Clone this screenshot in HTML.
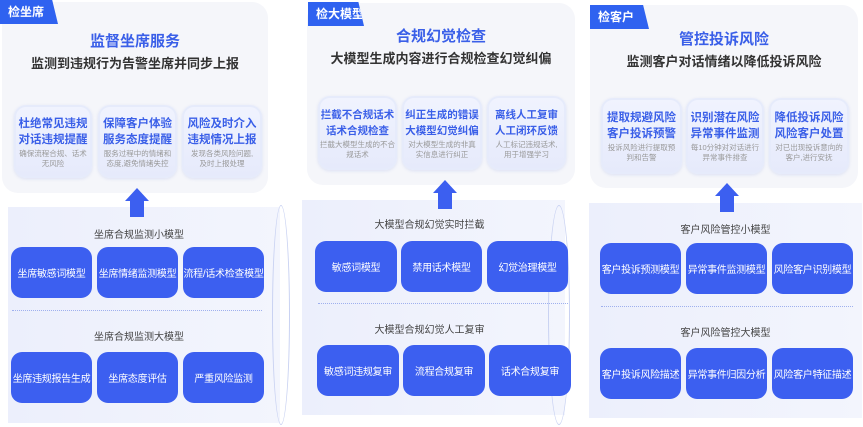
<!DOCTYPE html>
<html><head><meta charset="utf-8"><style>
*{margin:0;padding:0;box-sizing:border-box}
body{width:863px;height:427px;background:#fff;position:relative;overflow:hidden;font-family:"Liberation Sans","Noto Sans CJK SC",sans-serif}
.card{position:absolute;background:#f5f6fa;border-radius:16px}
.tag{position:absolute;height:24px;background:#2f62f0;color:#fff;font-size:12px;font-weight:bold;line-height:24px;padding-left:8px;clip-path:polygon(0 0,90% 0,100% 100%,0 100%)}
.t1{position:absolute;text-align:center;color:#3a5fe8;font-size:15px;font-weight:bold}
.t2{position:absolute;text-align:center;color:#333;font-size:13px;font-weight:bold}
.sc{position:absolute;background:linear-gradient(180deg,#f0f3fe,#e6eafb);border:2px solid #e6ebfb;border-radius:12px;text-align:center;box-shadow:0 1px 3px rgba(120,140,220,.2);white-space:nowrap;overflow:hidden}
.sc b{display:block;color:#3a5fe8;font-size:11.5px;line-height:16px}
.p2 b{font-size:10.5px}
.sc i{display:block;font-style:normal;color:#999;font-size:7.5px;line-height:10px;margin-top:1px}
.bp{position:absolute;background:linear-gradient(90deg,#eceffc,#f3f5fd)}
.lb{position:absolute;text-align:center;color:#444;font-size:10px}
.bt{position:absolute;background:#3c5ff0;color:#fff;border-radius:11px;font-size:10px;display:flex;align-items:center;justify-content:center;height:51px;white-space:nowrap;letter-spacing:-0.3px}
.dl{position:absolute;border-top:1.5px dotted #9fb0ee;height:0}
.ar{position:absolute;width:24px;height:29px}
.ar:before{content:"";position:absolute;left:0;top:0;border-left:12px solid transparent;border-right:12px solid transparent;border-bottom:13px solid #3c5ff0}
.ar:after{content:"";position:absolute;left:5px;top:13px;width:14px;height:16px;background:#3c5ff0}
.el{position:absolute;border:1px solid #c9d2f2;border-radius:50%}
</style></head><body>

<!-- Panel 1 -->
<div class="card" style="left:2px;top:2px;width:266px;height:191px"></div>
<div class="tag" style="left:0;top:0;width:58px">检坐席</div>
<div class="t1" style="left:2px;top:30px;width:266px">监督坐席服务</div>
<div class="t2" style="left:2px;top:53px;width:266px">监测到违规行为告警坐席并同步上报</div>
<div class="sc" style="left:14px;top:105px;width:78px;height:73px;padding-top:9px"><b>杜绝常见违规</b><b>对话违规提醒</b><i>确保流程合规、话术<br>无风险</i></div>
<div class="sc" style="left:98px;top:105px;width:79px;height:73px;padding-top:9px"><b>保障客户体验</b><b>服务态度提醒</b><i>服务过程中的情绪和<br>态度,避免情绪失控</i></div>
<div class="sc" style="left:182px;top:105px;width:80px;height:73px;padding-top:9px"><b>风险及时介入</b><b>违规情况上报</b><i>发现各类风险问题,<br>及时上报处理</i></div>
<div class="bp" style="left:8px;top:207px;width:272px;height:216px"></div>
<div class="el" style="left:272px;top:205px;width:18px;height:220px"></div>
<div class="ar" style="left:125px;top:188px"></div>
<div class="lb" style="left:8px;top:226px;width:262px">坐席合规监测小模型</div>
<div class="bt" style="left:11px;top:247px;width:81px">坐席敏感词模型</div>
<div class="bt" style="left:97px;top:247px;width:81px">坐席情绪监测模型</div>
<div class="bt" style="left:183px;top:247px;width:81px">流程/话术检查模型</div>
<div class="dl" style="left:12px;top:310px;width:250px"></div>
<div class="lb" style="left:8px;top:328px;width:262px">坐席合规监测大模型</div>
<div class="bt" style="left:11px;top:352px;width:81px">坐席违规报告生成</div>
<div class="bt" style="left:97px;top:352px;width:81px">坐席态度评估</div>
<div class="bt" style="left:183px;top:352px;width:81px">严重风险监测</div>

<!-- Panel 2 -->
<div class="card" style="left:307px;top:3px;width:268px;height:182px"></div>
<div class="tag" style="left:308px;top:2px;width:56px">检大模型</div>
<div class="t1" style="left:307px;top:25px;width:268px">合规幻觉检查</div>
<div class="t2" style="left:307px;top:48px;width:268px">大模型生成内容进行合规检查幻觉纠偏</div>
<div class="sc p2" style="left:318px;top:96px;width:79px;height:74px;padding-top:9px"><b>拦截不合规话术</b><b>话术合规检查</b><i>拦截大模型生成的不合<br>规话术</i></div>
<div class="sc p2" style="left:402px;top:96px;width:80px;height:74px;padding-top:9px"><b>纠正生成的错误</b><b>大模型幻觉纠偏</b><i>对大模型生成的非真<br>实信息进行纠正</i></div>
<div class="sc p2" style="left:487px;top:96px;width:79px;height:74px;padding-top:9px"><b>离线人工复审</b><b>人工闭环反馈</b><i>人工标记违规话术,<br>用于增强学习</i></div>
<div class="bp" style="left:302px;top:200px;width:263px;height:215px"></div>
<div class="el" style="left:548px;top:205px;width:22px;height:220px"></div>
<div class="ar" style="left:433px;top:180px"></div>
<div class="lb" style="left:302px;top:216px;width:255px">大模型合规幻觉实时拦截</div>
<div class="bt" style="left:315px;top:241px;width:82px">敏感词模型</div>
<div class="bt" style="left:401px;top:241px;width:81px">禁用话术模型</div>
<div class="bt" style="left:487px;top:241px;width:81px">幻觉治理模型</div>
<div class="dl" style="left:318px;top:303px;width:250px"></div>
<div class="lb" style="left:302px;top:321px;width:255px">大模型合规幻觉人工复审</div>
<div class="bt" style="left:317px;top:345px;width:82px">敏感词违规复审</div>
<div class="bt" style="left:403px;top:345px;width:82px">流程合规复审</div>
<div class="bt" style="left:489px;top:345px;width:82px">话术合规复审</div>

<!-- Panel 3 -->
<div class="card" style="left:590px;top:5px;width:268px;height:183px"></div>
<div class="tag" style="left:590px;top:5px;width:59px">检客户</div>
<div class="t1" style="left:590px;top:28px;width:268px">管控投诉风险</div>
<div class="t2" style="left:590px;top:51px;width:268px">监测客户对话情绪以降低投诉风险</div>
<div class="sc" style="left:601px;top:98px;width:81px;height:76px;padding-top:10px"><b>提取规避风险</b><b>客户投诉预警</b><i>投诉风险进行提取预<br>判和告警</i></div>
<div class="sc" style="left:686px;top:98px;width:78px;height:76px;padding-top:10px"><b>识别潜在风险</b><b>异常事件监测</b><i>每10分钟对对话进行<br>异常事件排查</i></div>
<div class="sc" style="left:769px;top:98px;width:80px;height:76px;padding-top:10px"><b>降低投诉风险</b><b>风险客户处置</b><i>对已出现投诉意向的<br>客户,进行安抚</i></div>
<div class="bp" style="left:589px;top:203px;width:273px;height:215px"></div>
<div class="ar" style="left:715px;top:183px"></div>
<div class="lb" style="left:589px;top:221px;width:273px">客户风险管控小模型</div>
<div class="bt" style="left:600px;top:243px;width:81px">客户投诉预测模型</div>
<div class="bt" style="left:686px;top:243px;width:81px">异常事件监测模型</div>
<div class="bt" style="left:772px;top:243px;width:81px">风险客户识别模型</div>
<div class="dl" style="left:601px;top:306px;width:252px"></div>
<div class="lb" style="left:589px;top:324px;width:273px">客户风险管控大模型</div>
<div class="bt" style="left:600px;top:348px;width:81px">客户投诉风险描述</div>
<div class="bt" style="left:686px;top:348px;width:81px">异常事件归因分析</div>
<div class="bt" style="left:772px;top:348px;width:81px">风险客户特征描述</div>
</body></html>
